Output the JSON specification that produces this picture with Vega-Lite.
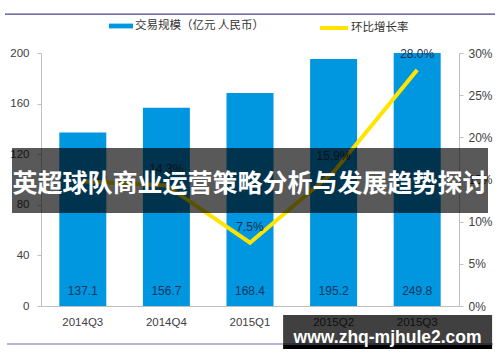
{
  "$schema": "https://vega.github.io/schema/vega-lite/v6.json",
  "width": 418,
  "height": 253,
  "autosize": "none",
  "padding": {"left": 41, "top": 53, "right": 41, "bottom": 56},
  "background": "white",
  "config": {
    "view": {"stroke": null},
    "font": "Liberation Sans",
    "axis": {"domainColor": "#bfbfbf", "tickColor": "#bfbfbf", "labelColor": "#404040", "labelFontSize": 11.5, "grid": false, "title": null}
  },
  "data": {
    "values": [
      {"q": "2014Q3", "v": 137.1, "r": 0.148, "rl": ""},
      {"q": "2014Q4", "v": 156.7, "r": 0.143, "rl": "14.3%"},
      {"q": "2015Q1", "v": 168.4, "r": 0.075, "rl": "7.5%"},
      {"q": "2015Q2", "v": 195.2, "r": 0.159, "rl": "15.9%"},
      {"q": "2015Q3", "v": 249.8, "r": 0.28, "rl": "28.0%"}
    ]
  },
  "layer": [
    {
      "layer": [
        {
          "mark": {"type": "bar", "clip": true},
          "encoding": {
            "x": {"field": "q", "type": "ordinal", "scale": {"paddingInner": 0.438, "paddingOuter": 0.219}, "axis": {"title": null, "labelAngle": 0, "ticks": false, "labelPadding": 10}},
            "y": {"field": "v", "type": "quantitative", "scale": {"domain": [0, 200], "nice": false}, "axis": {"orient": "left", "values": [0, 40, 80, 120, 160, 200], "tickSize": 4, "labelPadding": 8}},
            "color": {"datum": "交易规模（亿元 人民币）", "type": "nominal", "scale": {"range": ["#0096e0"]},
              "legend": {"orient": "none", "legendX": 68, "legendY": -39, "direction": "horizontal", "title": null, "symbolType": "M-1,-0.2H1V0.2H-1Z", "symbolSize": 576, "symbolStrokeWidth": 0, "labelFont": "Noto Sans CJK SC", "labelFontSize": 11.5, "labelColor": "#333333", "labelOffset": 2, "padding": 0}}
          }
        },
        {
          "mark": {"type": "text", "fontSize": 12, "color": "#17365d", "baseline": "middle"},
          "encoding": {
            "x": {"field": "q", "type": "ordinal"},
            "y": {"datum": 12, "type": "quantitative"},
            "text": {"field": "v", "type": "quantitative", "format": ".1f"}
          }
        }
      ]
    },
    {
      "layer": [
        {
          "mark": {"type": "line", "strokeWidth": 4},
          "encoding": {
            "x": {"field": "q", "type": "ordinal"},
            "y": {"field": "r", "type": "quantitative", "scale": {"domain": [0, 0.3], "nice": false}, "axis": {"orient": "right", "format": ".0%", "values": [0, 0.05, 0.1, 0.15, 0.2, 0.25, 0.3], "tickSize": 4, "labelPadding": 5, "labelFontSize": 12}},
            "stroke": {"datum": "环比增长率", "type": "nominal", "scale": {"range": ["#ffe400"]},
              "legend": {"orient": "none", "legendX": 277, "legendY": -41, "title": null, "symbolType": "stroke", "symbolSize": 784, "symbolStrokeWidth": 4, "labelFont": "Noto Sans CJK SC", "labelFontSize": 11.5, "labelColor": "#333333", "labelOffset": 1, "padding": 0}}
          }
        },
        {
          "mark": {"type": "text", "fontSize": 12, "color": "#1f2d4e", "baseline": "middle", "dy": -16},
          "encoding": {
            "x": {"field": "q", "type": "ordinal"},
            "y": {"field": "r", "type": "quantitative"},
            "text": {"field": "rl"}
          }
        }
      ]
    },
    {
      "data": {"values": [{}]},
      "layer": [
        {
          "mark": {"type": "bar", "width": 490, "color": "#44448a"},
          "encoding": {
            "x": {"datum": "2015Q1", "type": "ordinal"},
            "y": {"datum": 231.2, "type": "quantitative", "scale": {"domain": [0, 200], "nice": false}, "axis": null},
            "y2": {"datum": 230.2}
          }
        },
        {
          "mark": {"type": "bar", "width": 486, "color": "#6a6aa8"},
          "encoding": {
            "x": {"datum": "2015Q1", "type": "ordinal"},
            "y": {"datum": -29.6, "type": "quantitative"},
            "y2": {"datum": -30.5}
          }
        },
        {
          "mark": {"type": "bar", "width": 476, "color": "#000000", "opacity": 0.65},
          "encoding": {
            "x": {"datum": "2015Q1", "type": "ordinal"},
            "y": {"datum": 124.9, "type": "quantitative"},
            "y2": {"datum": 73.5}
          }
        },
        {
          "mark": {"type": "text", "font": "Noto Sans CJK SC", "fontWeight": "bold", "fontSize": 25, "color": "#ffffff", "baseline": "middle", "align": "center"},
          "encoding": {
            "x": {"datum": "2015Q1", "type": "ordinal"},
            "y": {"datum": 96.4, "type": "quantitative"},
            "text": {"value": "英超球队商业运营策略分析与发展趋势探讨"}
          }
        },
        {
          "mark": {"type": "bar", "width": 209, "xOffset": 54, "color": "#000000", "opacity": 0.75},
          "encoding": {
            "x": {"datum": "2015Q2", "type": "ordinal"},
            "y": {"datum": -7.1, "type": "quantitative"},
            "y2": {"datum": -30.8}
          }
        },
        {
          "mark": {"type": "bar", "width": 209, "xOffset": 54, "color": "#000000"},
          "encoding": {
            "x": {"datum": "2015Q2", "type": "ordinal"},
            "y": {"datum": -30.8, "type": "quantitative"},
            "y2": {"datum": -34}
          }
        },
        {
          "mark": {"type": "text", "font": "Liberation Sans", "fontWeight": "bold", "fontSize": 17.5, "color": "#ffffff", "baseline": "middle", "align": "center", "dx": 54},
          "encoding": {
            "x": {"datum": "2015Q2", "type": "ordinal"},
            "y": {"datum": -25.3, "type": "quantitative"},
            "text": {"value": "www.zhq-mjhule2.com"}
          }
        }
      ]
    }
  ],
  "resolve": {"scale": {"y": "independent"}}
}
